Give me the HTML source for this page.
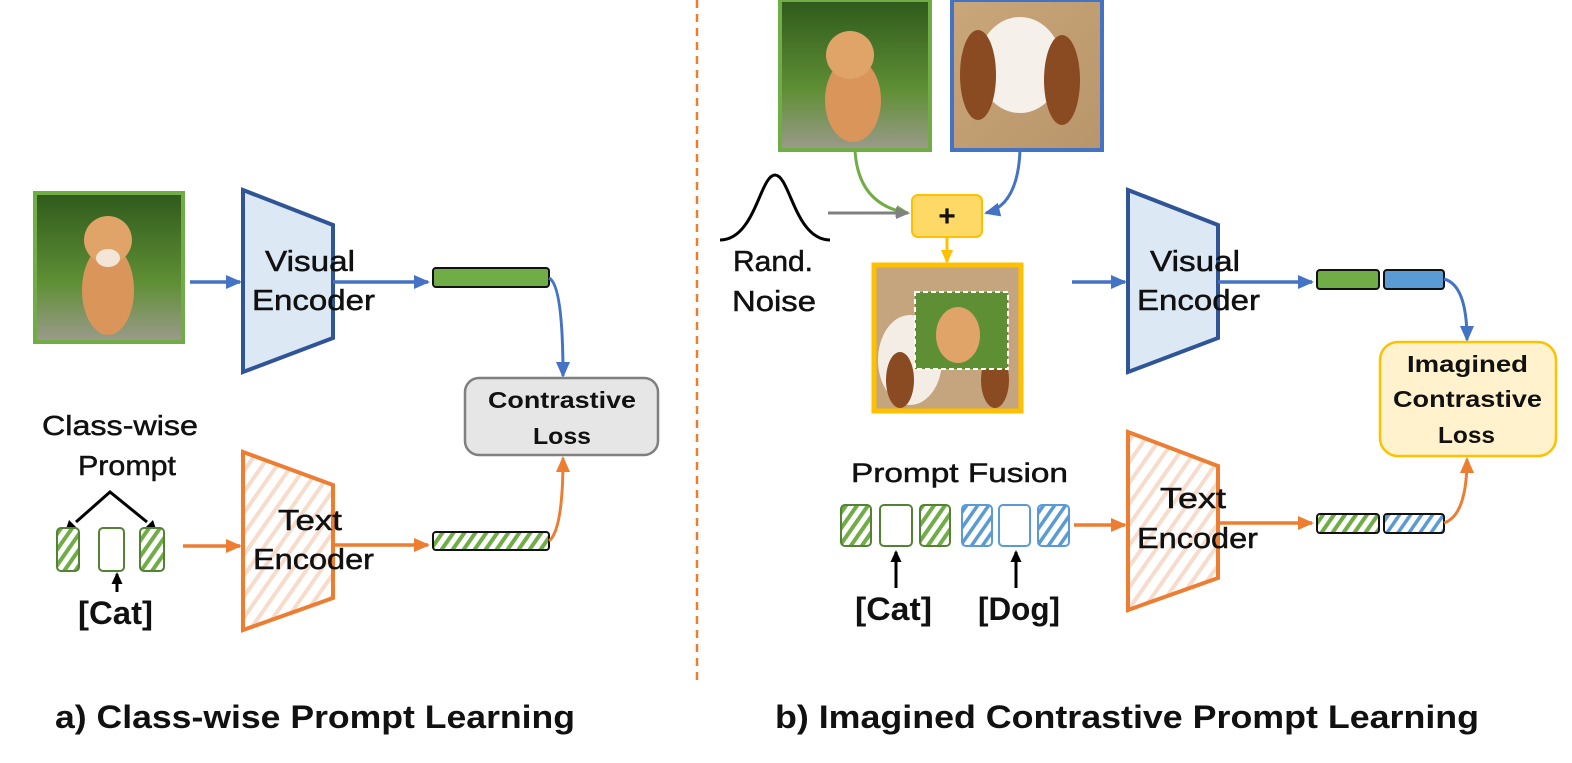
<!DOCTYPE html>
<html><head><meta charset="utf-8"><style>
html,body{margin:0;padding:0;background:#fff}
svg{display:block}
text{font-family:"Liberation Sans",sans-serif;fill:#111;stroke:#111;stroke-width:0.5}
text.b{font-weight:bold;stroke-width:0}
</style></head><body>
<svg width="1572" height="763" viewBox="0 0 1572 763" xmlns="http://www.w3.org/2000/svg">
<defs>
<pattern id="hg" width="9" height="9" patternUnits="userSpaceOnUse" patternTransform="rotate(35)"><rect width="9" height="9" fill="#fff"/><rect width="4" height="9" fill="#70ad47"/></pattern>
<pattern id="hb" width="9" height="9" patternUnits="userSpaceOnUse" patternTransform="rotate(35)"><rect width="9" height="9" fill="#fff"/><rect width="3.5" height="9" fill="#5b9bd5"/></pattern>
<pattern id="ho" width="12" height="12" patternUnits="userSpaceOnUse" patternTransform="rotate(35)"><rect width="12" height="12" fill="#fff"/><rect width="4" height="12" fill="#f8dccb"/></pattern>
<linearGradient id="grass" x1="0" y1="0" x2="0" y2="1"><stop offset="0" stop-color="#2f5a1c"/><stop offset=".6" stop-color="#5f8f35"/><stop offset="1" stop-color="#9c9a8c"/></linearGradient>
<linearGradient id="dogbg" x1="0" y1="0" x2="1" y2="1"><stop offset="0" stop-color="#c9a77a"/><stop offset="1" stop-color="#b8956a"/></linearGradient>
<marker id="ab" markerWidth="16" markerHeight="14" refX="14" refY="7" orient="auto" markerUnits="userSpaceOnUse"><path d="M0,0 L16,7 L0,14 z" fill="#4472c4"/></marker>
<marker id="ao" markerWidth="16" markerHeight="14" refX="14" refY="7" orient="auto" markerUnits="userSpaceOnUse"><path d="M0,0 L16,7 L0,14 z" fill="#ed7d31"/></marker>
<marker id="ak" markerWidth="12" markerHeight="11" refX="10" refY="5.5" orient="auto" markerUnits="userSpaceOnUse"><path d="M0,0 L12,5.5 L0,11 z" fill="#000"/></marker>
<marker id="ag" markerWidth="14" markerHeight="12" refX="12" refY="6" orient="auto" markerUnits="userSpaceOnUse"><path d="M0,0 L14,6 L0,12 z" fill="#70ad47"/></marker>
<marker id="ay" markerWidth="14" markerHeight="12" refX="12" refY="6" orient="auto" markerUnits="userSpaceOnUse"><path d="M0,0 L14,6 L0,12 z" fill="#ffc000"/></marker>
<marker id="agr" markerWidth="14" markerHeight="12" refX="12" refY="6" orient="auto" markerUnits="userSpaceOnUse"><path d="M0,0 L14,6 L0,12 z" fill="#808080"/></marker>
</defs>

<line x1="697" y1="0" x2="697" y2="680" stroke="#ed7d31" stroke-width="2.5" stroke-dasharray="8,6"/>

<!-- LEFT -->
<rect x="35" y="193" width="148" height="149" fill="url(#grass)" stroke="#70ad47" stroke-width="4"/>
<ellipse cx="108" cy="290" rx="26" ry="45" fill="#d9955a"/>
<circle cx="108" cy="240" r="24" fill="#e0a468"/>
<ellipse cx="108" cy="258" rx="12" ry="9" fill="#f3e6d6"/>
<line x1="190" y1="282" x2="240" y2="282" stroke="#4472c4" stroke-width="3.5" marker-end="url(#ab)"/>
<polygon points="243,190 333,225 333,338 243,372" fill="#dde8f5" stroke="#2f5597" stroke-width="4"/>
<text x="265" y="271" font-size="29" textLength="90" lengthAdjust="spacingAndGlyphs">Visual</text>
<text x="252" y="310" font-size="29" textLength="123" lengthAdjust="spacingAndGlyphs">Encoder</text>
<line x1="333" y1="282" x2="428" y2="282" stroke="#4472c4" stroke-width="3.5" marker-end="url(#ab)"/>
<rect x="433" y="268" width="116" height="19" rx="3" fill="#70ad47" stroke="#111" stroke-width="2"/>
<path d="M549,278 Q563,285 563,376" fill="none" stroke="#4472c4" stroke-width="3" marker-end="url(#ab)"/>
<rect x="465" y="378" width="193" height="77" rx="14" fill="#e7e6e6" stroke="#7f7f7f" stroke-width="2.5"/>
<text class="b" x="488" y="408" font-size="23" textLength="148" lengthAdjust="spacingAndGlyphs" fill="#222">Contrastive</text>
<text class="b" x="533" y="444" font-size="23" textLength="58" lengthAdjust="spacingAndGlyphs" fill="#222">Loss</text>

<text x="42" y="435" font-size="28" textLength="156" lengthAdjust="spacingAndGlyphs">Class-wise</text>
<text x="78" y="475" font-size="28" textLength="98" lengthAdjust="spacingAndGlyphs">Prompt</text>
<path d="M76,522 L110,492 L147,522" fill="none" stroke="#000" stroke-width="3"/>
<path d="M69,520 L65,532 L77,528 z M153,520 L157,532 L145,528 z" fill="#000"/>
<rect x="57" y="528" width="22" height="43" rx="4" fill="url(#hg)" stroke="#548235" stroke-width="2"/>
<rect x="99" y="528" width="25" height="43" rx="4" fill="#fff" stroke="#548235" stroke-width="2"/>
<rect x="140" y="528" width="24" height="43" rx="4" fill="url(#hg)" stroke="#548235" stroke-width="2"/>
<line x1="117" y1="592" x2="117" y2="574" stroke="#000" stroke-width="3" marker-end="url(#ak)"/>
<text class="b" x="78" y="624" font-size="32" textLength="75" lengthAdjust="spacingAndGlyphs">[Cat]</text>
<line x1="183" y1="546" x2="240" y2="546" stroke="#ed7d31" stroke-width="3.5" marker-end="url(#ao)"/>
<polygon points="243,452 333,485 333,598 243,630" fill="url(#ho)" stroke="#ed7d31" stroke-width="4"/>
<text x="278" y="530" font-size="29" textLength="64" lengthAdjust="spacingAndGlyphs">Text</text>
<text x="253" y="569" font-size="29" textLength="121" lengthAdjust="spacingAndGlyphs">Encoder</text>
<line x1="333" y1="545" x2="428" y2="545" stroke="#ed7d31" stroke-width="3.5" marker-end="url(#ao)"/>
<rect x="433" y="532" width="116" height="18" rx="3" fill="url(#hg)" stroke="#111" stroke-width="2"/>
<path d="M549,541 Q563,530 563,458" fill="none" stroke="#ed7d31" stroke-width="3" marker-end="url(#ao)"/>

<text class="b" x="55" y="728" font-size="32" fill="#222" textLength="520" lengthAdjust="spacingAndGlyphs">a) Class-wise Prompt Learning</text>

<!-- RIGHT -->
<rect x="780" y="0" width="150" height="150" fill="url(#grass)" stroke="#70ad47" stroke-width="4"/>
<ellipse cx="853" cy="100" rx="28" ry="42" fill="#d9955a"/>
<circle cx="850" cy="55" r="24" fill="#e0a468"/>
<rect x="952" y="0" width="150" height="150" fill="url(#dogbg)" stroke="#4472c4" stroke-width="4"/>
<ellipse cx="1020" cy="65" rx="42" ry="48" fill="#f5f0ea"/>
<ellipse cx="978" cy="75" rx="18" ry="45" fill="#8a4a22"/>
<ellipse cx="1062" cy="80" rx="18" ry="45" fill="#8a4a22"/>
<path d="M855,150 Q858,205 908,213" fill="none" stroke="#70ad47" stroke-width="3" marker-end="url(#ag)"/>
<path d="M1020,150 Q1018,205 986,213" fill="none" stroke="#4472c4" stroke-width="3" marker-end="url(#ab)"/>
<path d="M720,240 C755,240 760,175 775,175 C790,175 795,240 830,240" fill="none" stroke="#000" stroke-width="3"/>
<line x1="828" y1="213" x2="908" y2="213" stroke="#808080" stroke-width="3" marker-end="url(#agr)"/>
<rect x="912" y="195" width="70" height="42" rx="6" fill="#ffd966" stroke="#ffc000" stroke-width="2"/>
<text class="b" x="947" y="226" font-size="30" text-anchor="middle">+</text>
<line x1="947" y1="237" x2="947" y2="262" stroke="#ffc000" stroke-width="3" marker-end="url(#ay)"/>
<text x="733" y="271" font-size="29" textLength="80" lengthAdjust="spacingAndGlyphs">Rand.</text>
<text x="732" y="311" font-size="29" textLength="84" lengthAdjust="spacingAndGlyphs">Noise</text>
<rect x="874" y="265" width="147" height="146" fill="#c4a57d" stroke="#ffc000" stroke-width="5"/>
<ellipse cx="910" cy="360" rx="32" ry="45" fill="#f3ede6"/>
<ellipse cx="900" cy="380" rx="14" ry="28" fill="#8a4a22"/>
<ellipse cx="995" cy="380" rx="14" ry="28" fill="#8a4a22"/>
<rect x="915" y="292" width="93" height="77" fill="#5f8f35" stroke="#fff" stroke-width="2" stroke-dasharray="5,3"/>
<ellipse cx="958" cy="335" rx="22" ry="28" fill="#e0a468"/>
<line x1="1072" y1="282" x2="1125" y2="282" stroke="#4472c4" stroke-width="3.5" marker-end="url(#ab)"/>
<polygon points="1128,190 1218,225 1218,338 1128,372" fill="#dde8f5" stroke="#2f5597" stroke-width="4"/>
<text x="1150" y="271" font-size="29" textLength="90" lengthAdjust="spacingAndGlyphs">Visual</text>
<text x="1137" y="310" font-size="29" textLength="123" lengthAdjust="spacingAndGlyphs">Encoder</text>
<line x1="1218" y1="282" x2="1312" y2="282" stroke="#4472c4" stroke-width="3.5" marker-end="url(#ab)"/>
<rect x="1317" y="270" width="62" height="19" rx="3" fill="#70ad47" stroke="#111" stroke-width="2"/>
<rect x="1384" y="270" width="60" height="19" rx="3" fill="#5b9bd5" stroke="#111" stroke-width="2"/>
<path d="M1444,279 Q1467,285 1467,340" fill="none" stroke="#4472c4" stroke-width="3" marker-end="url(#ab)"/>
<rect x="1380" y="342" width="176" height="114" rx="18" fill="#fff2cc" stroke="#ffc000" stroke-width="2.5"/>
<text class="b" x="1407" y="372" font-size="23" fill="#222" textLength="121" lengthAdjust="spacingAndGlyphs">Imagined</text>
<text class="b" x="1393" y="407" font-size="23" fill="#222" textLength="149" lengthAdjust="spacingAndGlyphs">Contrastive</text>
<text class="b" x="1438" y="443" font-size="23" fill="#222" textLength="57" lengthAdjust="spacingAndGlyphs">Loss</text>

<text x="851" y="482" font-size="27" textLength="217" lengthAdjust="spacingAndGlyphs">Prompt Fusion</text>
<rect x="841" y="505" width="30" height="41" rx="4" fill="url(#hg)" stroke="#548235" stroke-width="2"/>
<rect x="880" y="505" width="32" height="41" rx="4" fill="#fff" stroke="#548235" stroke-width="2"/>
<rect x="920" y="505" width="30" height="41" rx="4" fill="url(#hg)" stroke="#548235" stroke-width="2"/>
<rect x="962" y="505" width="30" height="41" rx="4" fill="url(#hb)" stroke="#5b9bd5" stroke-width="2"/>
<rect x="999" y="505" width="31" height="41" rx="4" fill="#fff" stroke="#5b9bd5" stroke-width="2"/>
<rect x="1038" y="505" width="31" height="41" rx="4" fill="url(#hb)" stroke="#5b9bd5" stroke-width="2"/>
<line x1="896" y1="588" x2="896" y2="552" stroke="#000" stroke-width="3" marker-end="url(#ak)"/>
<line x1="1016" y1="588" x2="1016" y2="552" stroke="#000" stroke-width="3" marker-end="url(#ak)"/>
<text class="b" x="855" y="620" font-size="32" textLength="77" lengthAdjust="spacingAndGlyphs">[Cat]</text>
<text class="b" x="978" y="620" font-size="32" textLength="82" lengthAdjust="spacingAndGlyphs">[Dog]</text>
<line x1="1074" y1="525" x2="1125" y2="525" stroke="#ed7d31" stroke-width="3.5" marker-end="url(#ao)"/>
<polygon points="1128,432 1218,466 1218,578 1128,610" fill="url(#ho)" stroke="#ed7d31" stroke-width="4"/>
<text x="1160" y="508" font-size="29" textLength="66" lengthAdjust="spacingAndGlyphs">Text</text>
<text x="1137" y="548" font-size="29" textLength="121" lengthAdjust="spacingAndGlyphs">Encoder</text>
<line x1="1218" y1="523" x2="1312" y2="523" stroke="#ed7d31" stroke-width="3.5" marker-end="url(#ao)"/>
<rect x="1317" y="514" width="62" height="19" rx="3" fill="url(#hg)" stroke="#111" stroke-width="2"/>
<rect x="1384" y="514" width="60" height="19" rx="3" fill="url(#hb)" stroke="#111" stroke-width="2"/>
<path d="M1444,523 Q1467,515 1467,459" fill="none" stroke="#ed7d31" stroke-width="3" marker-end="url(#ao)"/>

<text class="b" x="775" y="728" font-size="32" fill="#222" textLength="704" lengthAdjust="spacingAndGlyphs">b) Imagined Contrastive Prompt Learning</text>
</svg>
</body></html>
